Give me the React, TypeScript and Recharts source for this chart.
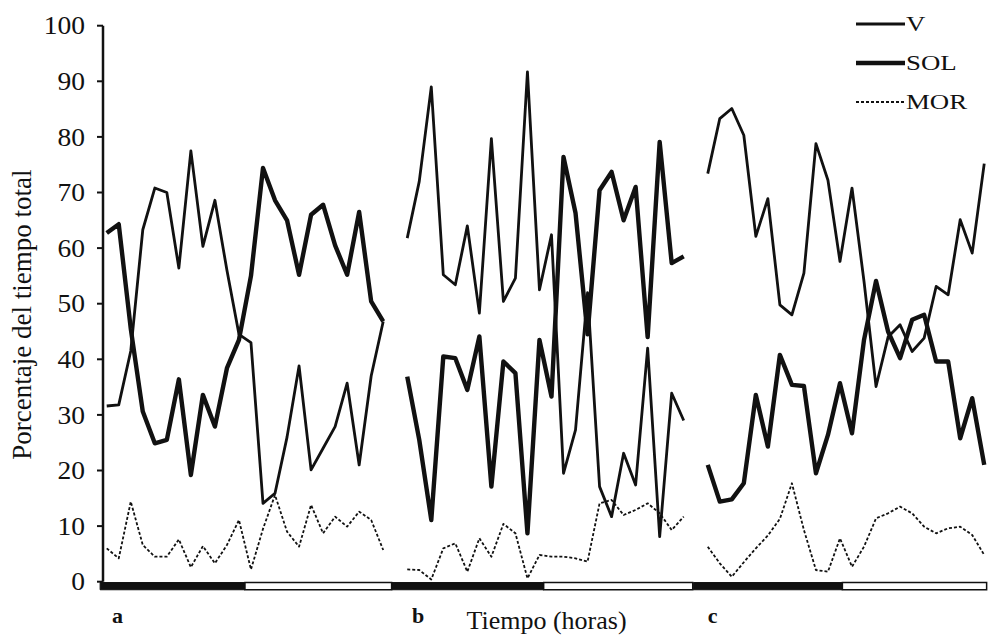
import React from "react";
import { LineChart, Line, XAxis, YAxis, ReferenceArea, Legend } from "recharts";

const SERIF = '"Liberation Serif", "Times New Roman", serif';
const INK = "#111";

// panel labels and the hour slots (24 hourly points per panel, one empty slot between panels)
const PANELS = ["a", "b", "c"];
const PANEL_STRIDE = 25;
const PANEL_TICKS = [0.9, 25.9, 50.4];
const Y_TICKS = [0, 10, 20, 30, 40, 50, 60, 70, 80, 90, 100];

// dark / light bar under each panel, in hour slots relative to the panel start
const DARK_FROM = [-0.55, -1.3, -1.2];
const DARK_TO = [11.5, 11.35, 11.2];
const LIGHT_TO = [23.7, 23.75, 23.2];

// panel a
const V_A = [31.6, 31.8, 41.5, 63.3, 70.8, 70.0, 56.4, 77.5, 60.3, 68.6, 56.0, 44.5, 43.0, 14.1, 15.9, 26.0, 38.8, 20.1, 24.0, 27.9, 35.7, 21.0, 37.0, 46.8];
const SOL_A = [62.7, 64.3, 45.5, 30.6, 24.9, 25.5, 36.4, 19.2, 33.6, 27.9, 38.4, 43.5, 55.0, 74.4, 68.6, 65.0, 55.2, 66.0, 67.8, 60.5, 55.2, 66.5, 50.4, 46.8];
const MOR_A = [6.0, 4.2, 14.4, 6.6, 4.5, 4.5, 7.6, 2.6, 6.4, 3.3, 6.6, 11.1, 2.2, 9.5, 15.6, 9.0, 6.3, 13.8, 8.7, 11.7, 9.9, 12.6, 11.1, 5.7];

// panel b
const V_B = [61.8, 72.0, 89.0, 55.2, 53.4, 64.0, 48.3, 79.7, 50.4, 54.6, 91.7, 52.5, 62.4, 19.5, 27.3, 52.0, 17.1, 11.7, 23.1, 17.4, 42.0, 8.1, 33.9, 29.0];
const SOL_B = [36.9, 25.5, 11.1, 40.5, 40.2, 34.5, 44.1, 17.1, 39.6, 37.5, 8.7, 43.5, 33.3, 76.4, 66.3, 44.5, 70.4, 73.7, 65.0, 71.0, 44.0, 79.1, 57.3, 58.5];
const MOR_B = [2.2, 2.1, 0.4, 6.0, 6.9, 1.8, 7.8, 4.5, 10.4, 8.7, 0.6, 4.8, 4.5, 4.5, 4.2, 3.6, 14.1, 14.7, 12.0, 12.9, 14.1, 12.3, 9.3, 11.7];

// panel c
const V_C = [73.4, 83.3, 85.1, 80.3, 62.1, 68.9, 49.8, 48.0, 55.5, 78.8, 72.2, 57.6, 70.8, 54.0, 35.1, 44.0, 46.2, 41.4, 43.8, 53.1, 51.6, 65.1, 59.1, 75.2];
const SOL_C = [21.0, 14.4, 14.8, 17.7, 33.6, 24.3, 40.8, 35.4, 35.2, 19.5, 26.4, 35.7, 26.7, 43.5, 54.1, 45.0, 40.2, 47.1, 48.0, 39.6, 39.6, 25.8, 33.0, 21.0];
const MOR_C = [6.3, 3.3, 0.9, 3.5, 6.0, 8.3, 11.3, 17.7, 9.3, 2.1, 1.8, 7.8, 2.7, 6.3, 11.4, 12.3, 13.5, 12.3, 9.9, 8.7, 9.6, 9.9, 8.4, 4.8];

const PANEL_SERIES = [
    { v: V_A, sol: SOL_A, mor: MOR_A },
    { v: V_B, sol: SOL_B, mor: MOR_B },
    { v: V_C, sol: SOL_C, mor: MOR_C },
];

const data: { x: number; v: number | null; sol: number | null; mor: number | null }[] = [];
PANEL_SERIES.forEach((p, pi) => {
    p.v.forEach((_, i) => {
        data.push({ x: pi * PANEL_STRIDE + i, v: p.v[i], sol: p.sol[i], mor: p.mor[i] });
    });
    // empty slot so the lines break between panels
    if (pi < PANEL_SERIES.length - 1) {
        data.push({ x: pi * PANEL_STRIDE + p.v.length, v: null, sol: null, mor: null });
    }
});

const SERIES = [
    { key: "v", name: "V", width: 2.8, dash: undefined },
    { key: "sol", name: "SOL", width: 4.4, dash: undefined },
    { key: "mor", name: "MOR", width: 1.8, dash: "3 2" },
];

function YTick({ x, y, payload }: any) {
    return (
        <g transform={`translate(${x},${y})`}>
            <text transform="scale(1.1,1)" textAnchor="end" dy="0.35em" fontSize={25} fontFamily={SERIF} fill={INK}>
                {payload.value}
            </text>
        </g>
    );
}

function PanelTick({ x, y, index }: any) {
    return (
        <text x={x} y={y + 41.5} textAnchor="middle" fontSize={22} fontWeight="bold" fontFamily={SERIF} fill={INK}>
            {PANELS[index]}
        </text>
    );
}

function YLabel({ viewBox }: any) {
    const cx = viewBox.x + 31;
    const cy = viewBox.y + viewBox.height / 2 + 11;
    return (
        <text x={cx} y={cy} transform={`rotate(-90 ${cx} ${cy})`} textAnchor="middle" fontSize={27} fontFamily={SERIF} fill={INK}>
            Porcentaje del tiempo total
        </text>
    );
}

function XLabel({ viewBox }: any) {
    return (
        <text x={viewBox.x + viewBox.width / 2} y={viewBox.y + 47.3} textAnchor="middle" fontSize={26} fontFamily={SERIF} fill={INK}>
            Tiempo (horas)
        </text>
    );
}

function LegendBox() {
    return (
        <div style={{ fontFamily: SERIF, fontSize: 22, color: INK }}>
            {SERIES.map((s) => (
                <div key={s.key} style={{ display: "flex", alignItems: "center", height: 39 }}>
                    <svg width={49} height={8} style={{ display: "block" }}>
                        <line x1={0} x2={49} y1={4} y2={4} stroke={INK} strokeWidth={s.width} strokeDasharray={s.dash} />
                    </svg>
                    <span style={{ display: "inline-block", transform: "scaleX(1.22)", transformOrigin: "left center", marginLeft: 1 }}>
                        {s.name}
                    </span>
                </div>
            ))}
        </div>
    );
}

export default function App() {
    return (
        <div style={{ position: "absolute", left: 0, top: 0, width: 991, height: 637, background: "#fff" }}>
            <LineChart width={991} height={637} data={data} margin={{ top: 25.7, right: 1, bottom: 0.3, left: 0 }}>
                <XAxis
                    type="number"
                    dataKey="x"
                    domain={[-0.31, 73.48]}
                    allowDataOverflow
                    ticks={PANEL_TICKS}
                    tick={<PanelTick />}
                    tickSize={0}
                    tickMargin={0}
                    axisLine={false}
                    tickLine={false}
                    height={55}
                    label={{ content: XLabel }}
                />
                <YAxis
                    type="number"
                    domain={[0, 100]}
                    ticks={Y_TICKS}
                    width={103}
                    tickSize={6}
                    tickMargin={12}
                    axisLine={{ stroke: INK, strokeWidth: 2.5 }}
                    tickLine={{ stroke: INK, strokeWidth: 2 }}
                    tick={<YTick />}
                    label={{ content: YLabel }}
                />
                <Legend
                    layout="horizontal"
                    verticalAlign="middle"
                    align="center"
                    content={<LegendBox />}
                    wrapperStyle={{ top: 4, left: 856, width: "auto" }}
                />
                {SERIES.map((s) => (
                    <Line
                        key={s.key}
                        type="linear"
                        dataKey={s.key}
                        name={s.name}
                        stroke={INK}
                        strokeWidth={s.width}
                        strokeDasharray={s.dash}
                        strokeLinejoin="round"
                        dot={false}
                        activeDot={false}
                        connectNulls={false}
                        isAnimationActive={false}
                    />
                ))}
                {PANELS.map((p, pi) => (
                    <ReferenceArea
                        key={`dark-${p}`}
                        x1={pi * PANEL_STRIDE + DARK_FROM[pi]}
                        x2={pi * PANEL_STRIDE + DARK_TO[pi]}
                        y1={-0.15}
                        y2={-1.45}
                        fill={INK}
                        fillOpacity={1}
                        stroke={INK}
                        ifOverflow="visible"
                    />
                ))}
                {PANELS.map((p, pi) => (
                    <ReferenceArea
                        key={`light-${p}`}
                        x1={pi * PANEL_STRIDE + DARK_TO[pi]}
                        x2={pi * PANEL_STRIDE + LIGHT_TO[pi]}
                        y1={-0.15}
                        y2={-1.45}
                        fill="#fff"
                        fillOpacity={1}
                        stroke={INK}
                        strokeWidth={1.5}
                        ifOverflow="visible"
                    />
                ))}
            </LineChart>
        </div>
    );
}
